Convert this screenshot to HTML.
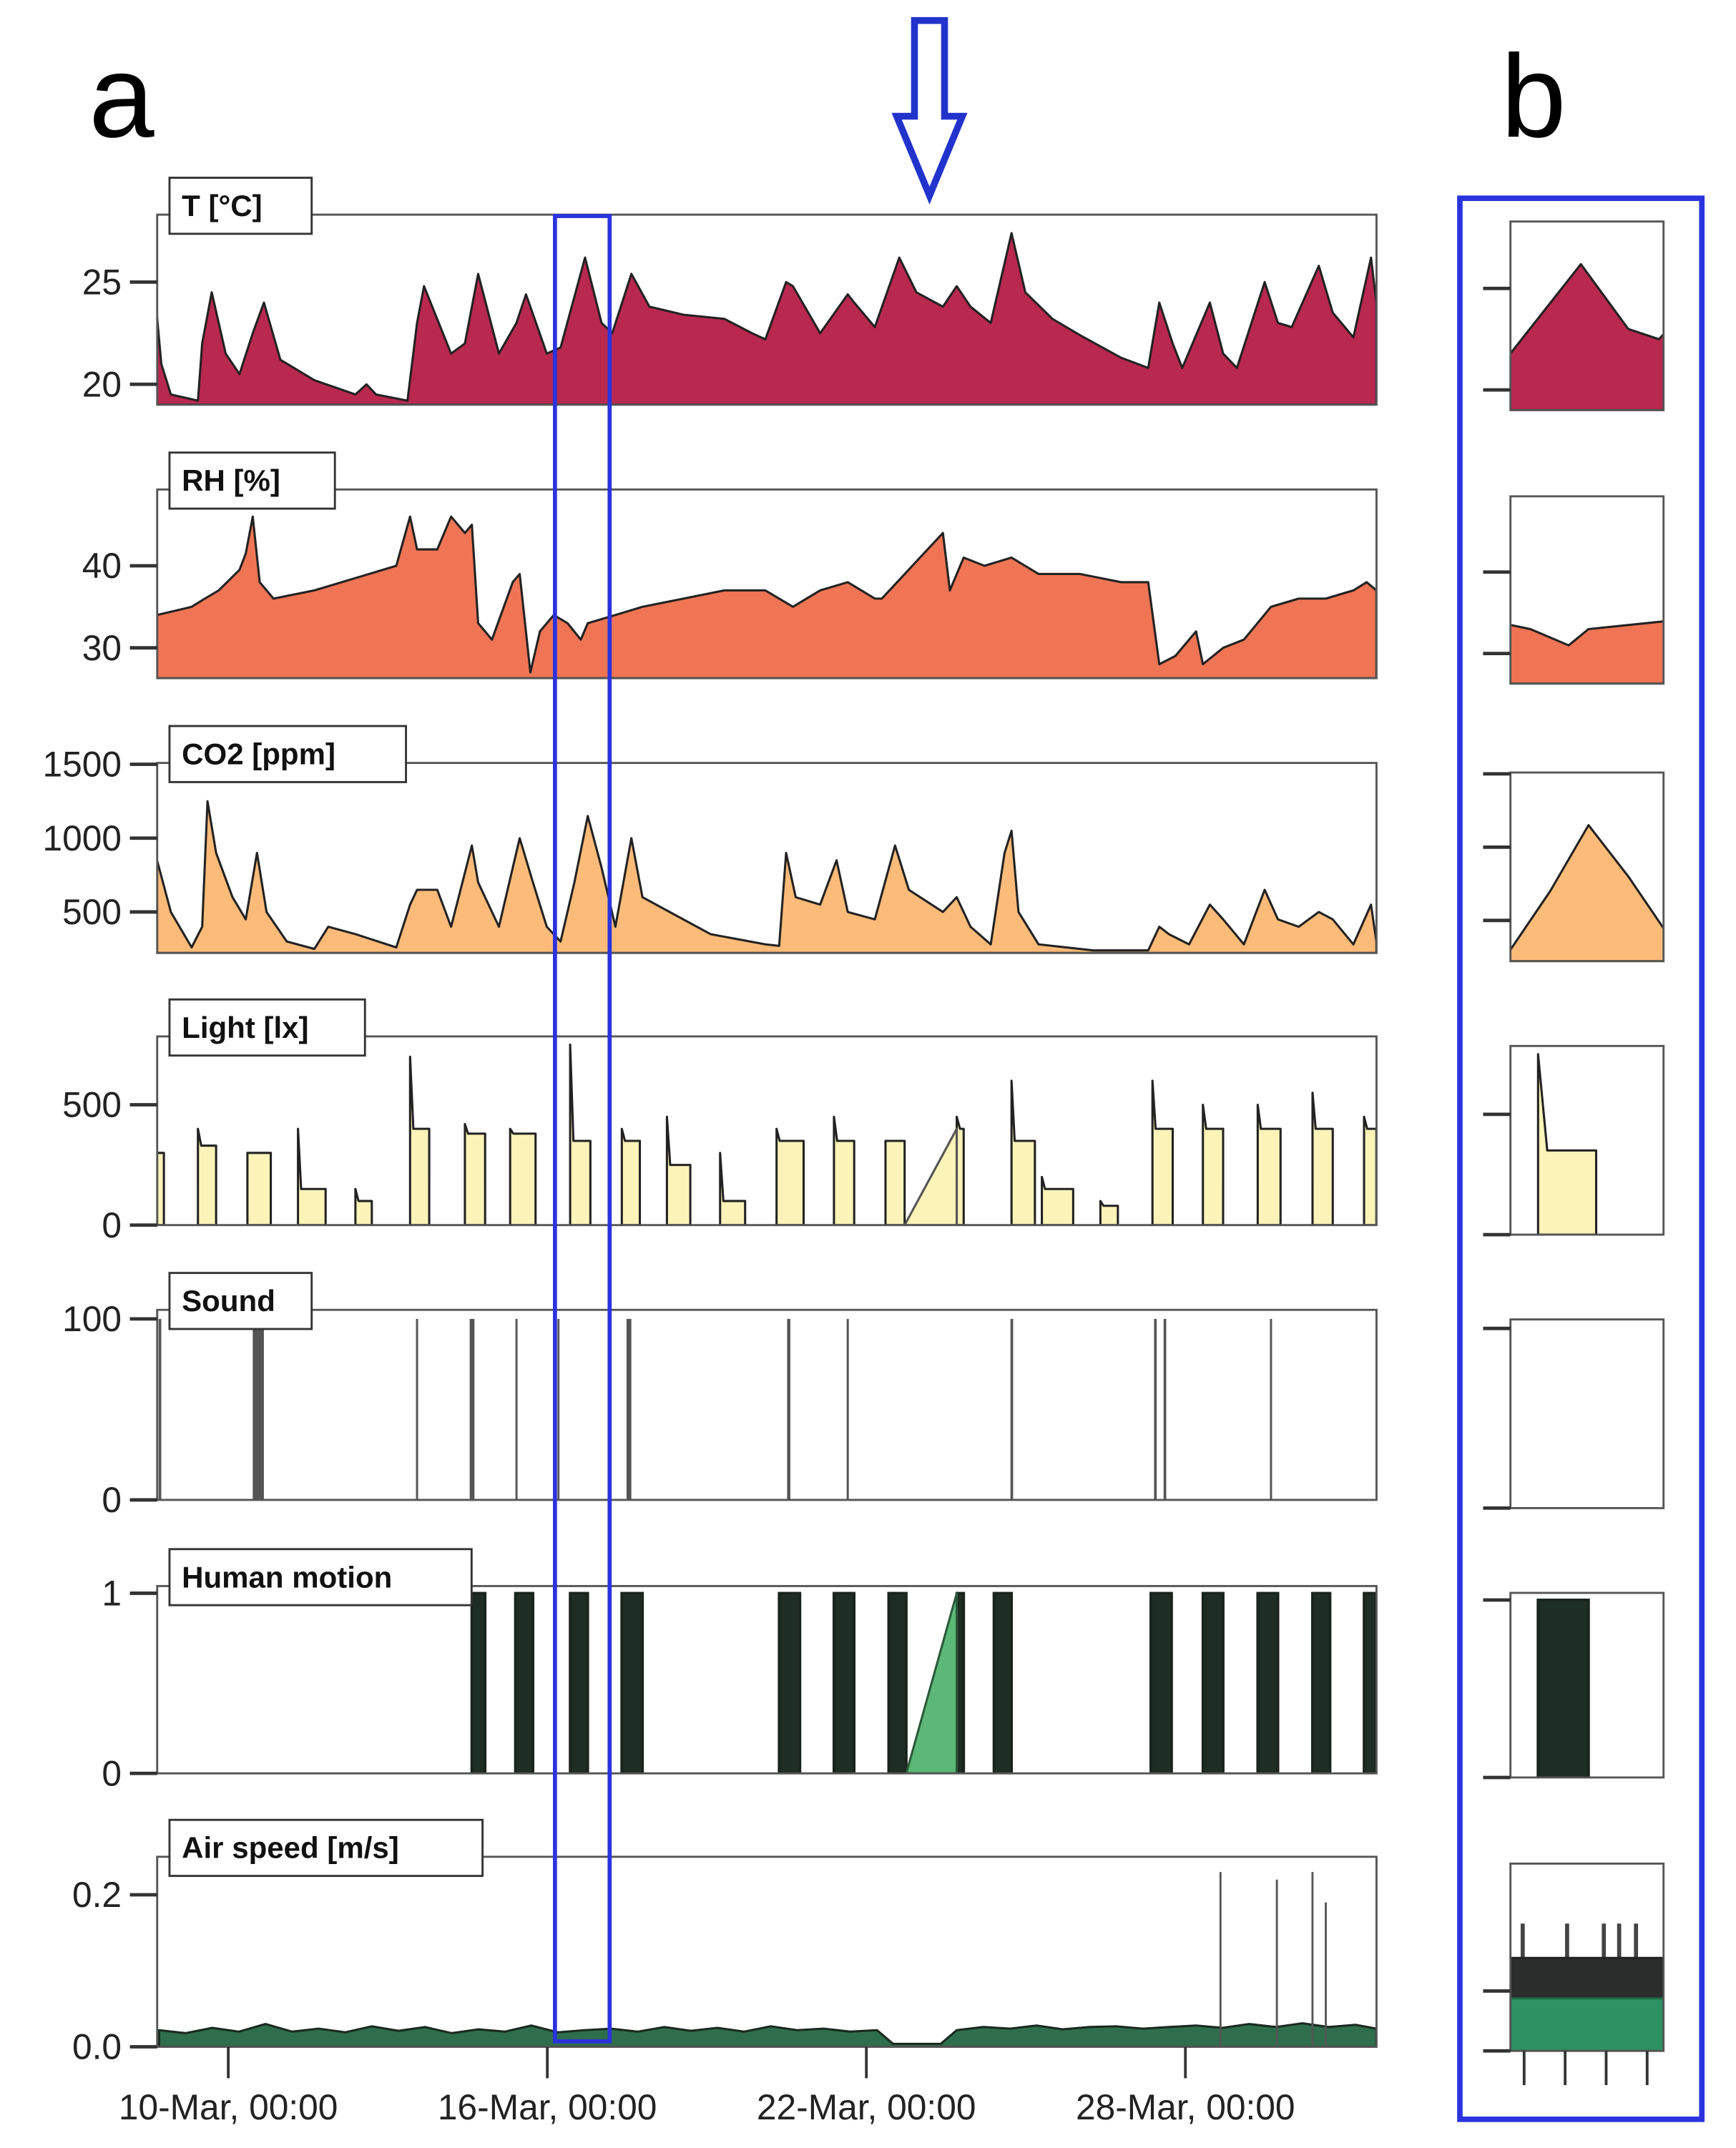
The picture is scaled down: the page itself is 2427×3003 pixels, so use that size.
<!DOCTYPE html>
<html><head><meta charset="utf-8"><style>
html,body{margin:0;padding:0;background:#fff;}
svg{display:block;}
</style></head><body>
<svg id="fig" xmlns="http://www.w3.org/2000/svg" width="2427" height="3003" viewBox="0 0 1270 1571" preserveAspectRatio="none" font-family="'Liberation Sans', 'DejaVu Sans', sans-serif">
<rect x="0" y="0" width="1270" height="1571" fill="#fff"/>
<text x="65" y="100" font-size="86">a</text>
<text x="1098" y="100" font-size="86">b</text>
<polygon points="669,15 691,15 691,85 704,85 680,143 656,85 669,85" fill="none" stroke="#2233cc" stroke-width="5"/>
<g id="gA"></g>
<g id="gB"></g>
<rect x="406" y="158" width="40" height="1335" fill="none" stroke="#2a33dd" stroke-width="3"/>
<rect x="1068" y="145" width="177" height="1405" fill="none" stroke="#2a33dd" stroke-width="4"/>
</svg>
<script>
// ---- data (day 0 = 10-Mar 00:00) ----
const tDays=[-1.34,-1.26,-1.08,-0.57,-0.49,-0.31,-0.05,0.21,0.46,0.67,0.98,1.62,2.39,2.60,2.78,3.37,3.55,3.68,4.19,4.45,4.70,5.09,5.42,5.60,5.99,6.25,6.71,7.02,7.22,7.58,7.92,8.56,9.33,9.85,10.10,10.49,10.62,11.13,11.65,11.77,12.16,12.62,12.94,13.44,13.70,13.96,14.34,14.73,14.99,15.50,16.02,16.79,17.30,17.51,17.76,17.94,18.46,18.71,18.97,19.49,19.74,20.00,20.51,20.77,21.16,21.49,21.59];
const tVals=[23.3,21,19.5,19.2,22,24.5,21.5,20.5,22.5,24,21.2,20.2,19.5,20,19.5,19.2,23,24.8,21.5,22,25.4,21.5,23,24.4,21.5,21.8,26.2,23,22.5,25.4,23.8,23.4,23.2,22.5,22.2,25,24.8,22.5,24.4,24,22.8,26.2,24.5,23.8,24.8,23.8,23,27.4,24.5,23.2,22.4,21.3,20.8,24,22,20.8,24,21.5,20.8,25,23,22.8,25.8,23.5,22.3,26.2,24];
const rhDays=[-1.34,-0.69,-0.44,-0.18,0.21,0.33,0.46,0.59,0.85,1.62,2.39,3.16,3.42,3.55,3.93,4.19,4.45,4.58,4.70,4.96,5.35,5.48,5.68,5.86,6.12,6.38,6.63,6.76,7.28,7.79,8.56,9.33,10.10,10.62,11.13,11.65,12.16,12.29,13.44,13.57,13.83,14.22,14.73,15.24,16.02,16.79,17.30,17.51,17.81,18.20,18.33,18.71,19.10,19.61,20.13,20.64,21.16,21.41,21.59];
const rhVals=[34,35,36,37,39.5,41.5,46,38,36,37,38.5,40,46,42,42,46,44,45,33,31,38,39,27,32,34,33,31,33,34,35,36,37,37,35,37,38,36,36,44,37,41,40,41,39,39,38,38,28,29,32,28,30,31,35,36,36,37,38,37];
const co2Days=[-1.34,-1.08,-0.69,-0.49,-0.39,-0.23,0.08,0.33,0.54,0.72,1.10,1.62,1.88,2.39,3.16,3.42,3.55,3.93,4.19,4.58,4.70,5.09,5.48,5.73,5.99,6.25,6.51,6.76,7.02,7.28,7.58,7.79,8.30,9.07,10.10,10.36,10.49,10.67,11.13,11.44,11.65,12.16,12.54,12.80,13.44,13.70,13.96,14.34,14.60,14.73,14.86,15.24,16.27,17.30,17.51,17.69,18.07,18.46,18.71,19.10,19.49,19.74,20.13,20.51,20.77,21.16,21.49,21.59];
const co2Vals=[850,500,260,400,1250,900,600,450,900,500,300,250,400,350,260,550,650,650,400,950,700,400,1000,700,400,300,700,1150,800,400,1000,600,500,350,280,270,900,600,550,850,500,450,950,650,500,600,400,280,900,1050,500,280,240,240,400,350,280,550,450,280,650,450,400,500,450,280,550,300];
const lightStart=[-1.34,-0.57,0.36,1.31,2.39,3.42,4.45,5.30,6.43,7.40,8.25,9.25,10.31,11.39,12.36,13.70,14.73,15.30,16.40,17.38,18.33,19.36,20.39,21.36];
const lightEnd=[-1.21,-0.23,0.80,1.83,2.70,3.78,4.83,5.78,6.81,7.74,8.69,9.72,10.82,11.77,12.72,13.83,15.17,15.89,16.73,17.76,18.71,19.79,20.77,21.59];
const lightLevel=[300,330,300,150,100,400,380,380,350,350,250,100,350,350,350,400,350,150,80,400,400,400,400,400];
const lightPeak=[300,400,300,400,150,700,420,400,750,400,450,300,400,450,350,450,600,200,100,600,500,500,550,450];
const lightRampDays=[12.72,13.70];
const lightRampVals=[0,400];
const soundStart=[-1.31,0.46,3.53,4.54,5.40,6.19,7.49,10.51,11.63,14.71,17.41,17.59,19.59];
const soundEnd=[-1.26,0.67,3.57,4.63,5.44,6.22,7.58,10.57,11.67,14.76,17.46,17.64,19.63];
const soundVals=[100,100,100,100,100,100,100,100,100,100,100,100,100];
const motionStart=[4.58,5.40,6.43,7.40,10.36,11.39,12.42,13.70,14.40,17.35,18.33,19.36,20.39,21.36];
const motionEnd=[4.83,5.73,6.76,7.79,10.75,11.77,12.75,13.83,14.73,17.74,18.71,19.74,20.72,21.59];
const motionRampDays=[12.75,13.70];
const motionRampVals=[0,1];
const airDays=[-1.3,-0.8,-0.3,0.2,0.7,1.2,1.7,2.2,2.7,3.2,3.7,4.2,4.7,5.2,5.7,6.2,6.7,7.2,7.7,8.2,8.7,9.2,9.7,10.2,10.7,11.2,11.7,12.2,12.5,13.4,13.7,14.2,14.7,15.2,15.7,16.2,16.7,17.2,17.7,18.2,18.7,19.2,19.7,20.2,20.7,21.2,21.59];
const airVals=[0.022,0.018,0.025,0.02,0.03,0.02,0.024,0.019,0.027,0.021,0.026,0.018,0.023,0.02,0.028,0.019,0.022,0.024,0.02,0.026,0.021,0.025,0.02,0.027,0.022,0.024,0.02,0.022,0.004,0.004,0.022,0.026,0.024,0.028,0.023,0.026,0.027,0.024,0.026,0.028,0.025,0.03,0.026,0.031,0.026,0.029,0.024];
const airSpikeDays=[18.66,19.72,20.39,20.64];
const airSpikeVals=[0.23,0.22,0.23,0.19];
// zoomed air speed (panel b uses finer resolution)
const bAirDays=[6.25,6.35,6.45,6.55,6.65,6.75,6.85,6.95,7.05,7.15,7.25];
const bAirGreen=[0.035,0.035,0.035,0.035,0.035,0.035,0.035,0.035,0.035,0.035,0.035];
const bAirBlack=[0.062,0.062,0.062,0.062,0.062,0.062,0.062,0.062,0.062,0.062,0.062];
const bAirSpikeDays=[6.33,6.62,6.86,6.96,7.07];
const bAirSpikeVals=[0.085,0.085,0.085,0.085,0.085];
const xTickDays=[0,6,12,18];
const xTickLabels=["10-Mar, 00:00","16-Mar, 00:00","22-Mar, 00:00","28-Mar, 00:00"];
const panelNames=["T [°C]","RH [%]","CO2 [ppm]","Light [lx]","Sound","Human motion","Air speed [m/s]"];
const panelTicks=[[20,25],[30,40],[500,1000,1500],[0,500],[0,100],[0,1],[0.0,0.2]];
const panelTickLabels=[["20","25"],["30","40"],["500","1000","1500"],["0","500"],["0","100"],["0","1"],["0.0","0.2"]];
const panelDomains=[[19,28.3],[26.3,49.3],[222,1509],[0,784],[0,105],[0,1.04],[0,0.25]];

// ---- layout ----
const NS="http://www.w3.org/2000/svg";
const aTops=[157,358,558,758,958,1160,1358], aBots=[296,496,697,896,1097,1297,1497];
const bTops=[162,363,565,765,965,1165,1363], bBots=[300,500,703,903,1103,1300,1500];
const labelW=[104,121,173,143,104,221,229];
const A={x0:115,x1:1007,map:d=>167+d*38.9};
const B={x0:1105,x1:1217,map:d=>1105+(d-6.25)/(7.25-6.25)*112};
function el(tag,attrs,parent){const e=document.createElementNS(NS,tag);for(const k in attrs)e.setAttribute(k,attrs[k]);parent.appendChild(e);return e;}
function yScale(i,tops,bots){const [lo,hi]=panelDomains[i];return v=>bots[i]-(v-lo)/(hi-lo)*(bots[i]-tops[i]);}

function drawPanel(g,P,i,tops,bots,prefix,showText){
  const top=tops[i],bot=bots[i],y=yScale(i,tops,bots),X=P.map;
  const cid=prefix+"clip"+i;
  const cp=el("clipPath",{id:cid},g);el("rect",{x:P.x0,y:top,width:P.x1-P.x0,height:bot-top},cp);
  const pg=el("g",{"clip-path":"url(#"+cid+")"},g);
  
  
  function area(days,vals,fill,name,stroke,yf){
    const Y=yf||y;
    let pts=X(days[0]).toFixed(1)+","+bot+" ";
    for(let k=0;k<days.length;k++)pts+=X(days[k]).toFixed(1)+","+Y(vals[k]).toFixed(1)+" ";
    pts+=X(days[days.length-1]).toFixed(1)+","+bot;
    const p=el("polygon",{points:pts,fill:fill,stroke:stroke||"#222","stroke-width":1.6,"stroke-linejoin":"round"},pg);
    
    
  }
  function bars(s,e,v,fill,name,stroke){
    for(let k=0;k<s.length;k++){
      const r=el("rect",{x:X(s[k]),y:y(v[k]),width:Math.max(1.5,X(e[k])-X(s[k])),height:bot-y(v[k]),fill:fill,stroke:stroke||"none","stroke-width":2},pg);
      
      
    }
  }
  if(i===0)area(tDays,tVals,"#b9284f","temperature-area");
  if(i===1)area(rhDays,rhVals,"#ef7555","humidity-area");
  if(i===2)area(co2Days,co2Vals,"#fdbb7a","co2-area");
  if(i===3){
    for(let k=0;k<lightStart.length;k++){
      const s=lightStart[k],e=lightEnd[k];
      area([s,s,s+0.06,e,e],[0,lightPeak[k],lightLevel[k],lightLevel[k],0],"#fbf3b8","light-event-"+k);
    }
    area(lightRampDays,lightRampVals,"#fbf3b8","light-ramp","#555");
  }
  if(i===4)bars(soundStart,soundEnd,soundVals,"#555","sound-spike");
  if(i===5){
    bars(motionStart,motionEnd,motionStart.map(()=>1),"#1f2e25","motion-block","#1a241e");
    area(motionRampDays,motionRampVals,"#5cb876","motion-ramp","#2a5a3a");
  }
  if(i===6){
    if(prefix==="a"){
      area(airDays,airVals,"#2f6e4c","air-speed-area","#1a2a20");
      for(let k=0;k<airSpikeDays.length;k++){
        const l=el("line",{x1:X(airSpikeDays[k]),x2:X(airSpikeDays[k]),y1:bot,y2:y(airSpikeVals[k]),stroke:"#555","stroke-width":1.5},pg);
        
        
      }
    } else {
      const yb=v=>bot-v/0.125*(bot-top);
      for(let k=0;k<bAirSpikeDays.length;k++){
        const l=el("line",{x1:X(bAirSpikeDays[k]),x2:X(bAirSpikeDays[k]),y1:bot,y2:yb(bAirSpikeVals[k]),stroke:"#444","stroke-width":3},pg);
        
        
      }
      area(bAirDays,bAirBlack,"#2a2d2b","b-air-speed-noise","#222",yb);
      area(bAirDays,bAirGreen,"#2e9163","b-air-speed-area","#1f6b47",yb);
    }
  }
  const fr=el("rect",{x:P.x0,y:top,width:P.x1-P.x0,height:bot-top,fill:"none",stroke:"#555","stroke-width":1.5},g);
  
  
  const ticks=(prefix==="b"&&i===6)?[0,0.04]:panelTicks[i];
  ticks.forEach((t,k)=>{
    const ty=(prefix==="b"&&i===6)?bot-t/0.125*(bot-top):y(t);
    const tl=el("line",{x1:P.x0-20,x2:P.x0,y1:ty,y2:ty,stroke:"#333","stroke-width":2.5},g);
    
    
    if(showText){
      const tx=el("text",{x:P.x0-26,y:ty+9,"text-anchor":"end","font-size":26,fill:"#222"},g);
      tx.textContent=panelTickLabels[i][k];
      
      
    }
  });
  if(showText){
    const lb=el("rect",{x:124,y:top-27,width:labelW[i],height:41,fill:"#fff",stroke:"#333","stroke-width":1.5},g);
    
    
    const lt=el("text",{x:133,y:top+1,"font-size":22,"font-weight":"bold",fill:"#111"},g);
    lt.textContent=panelNames[i];
    
    
  }
}
const gA=document.getElementById("gA"),gB=document.getElementById("gB");
for(let i=0;i<7;i++){drawPanel(gA,A,i,aTops,aBots,"a",true);drawPanel(gB,B,i,bTops,bBots,"b",false);}
xTickDays.forEach((d,k)=>{
  const x=A.map(d);
  const l=el("line",{x1:x,x2:x,y1:1497,y2:1520,stroke:"#333","stroke-width":2},gA);
  
  
  const t=el("text",{x:x,y:1550,"text-anchor":"middle","font-size":26,fill:"#222"},gA);
  t.textContent=xTickLabels[k];
  
  
});
[1115,1145,1175,1205].forEach((x,k)=>{
  const l=el("line",{x1:x,x2:x,y1:1500,y2:1525,stroke:"#333","stroke-width":2},gB);
  
  
});
</script>
</body></html>
